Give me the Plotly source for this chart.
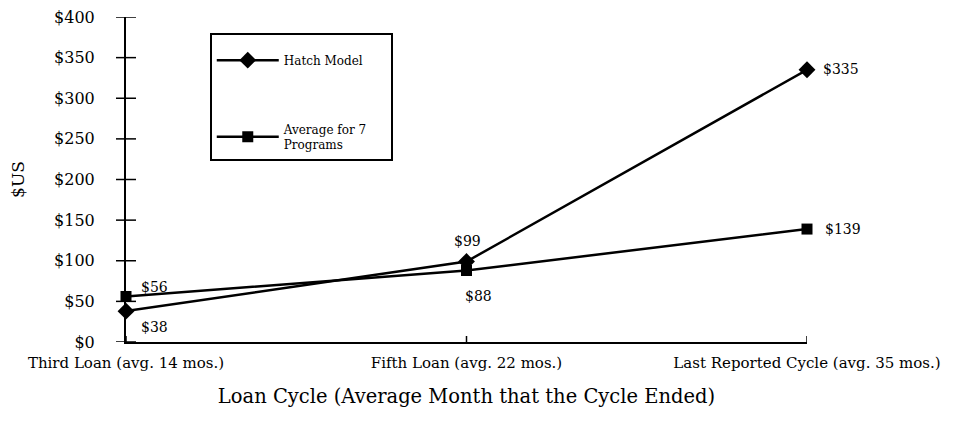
import plotly.graph_objects as go

categories = ["Third Loan (avg. 14 mos.)", "Fifth Loan (avg. 22 mos.)", "Last Reported Cycle (avg. 35 mos.)"]
hatch = [38, 99, 335]
average7 = [56, 88, 139]
y_ticks = [0, 50, 100, 150, 200, 250, 300, 350, 400]
y_tick_labels = [f"${v}" for v in y_ticks]

FONT = "DejaVu Serif"
xpos = list(range(len(categories)))

fig = go.Figure()
fig.add_trace(go.Scatter(
    x=xpos, y=hatch, mode="lines+markers", name="Hatch Model" + "&nbsp;" * 6,
    line=dict(color="black", width=2.5),
    marker=dict(symbol="diamond", size=13, color="black"),
    cliponaxis=False,
    legendgroup="a",
))
fig.add_trace(go.Scatter(
    x=xpos, y=average7, mode="lines+markers", name="Average for 7<br>Programs",
    line=dict(color="black", width=2.5),
    marker=dict(symbol="square", size=11, color="black"),
    cliponaxis=False,
    legendgroup="b",
))

# value labels (offsets in pixels relative to each data point)
hatch_offsets = [(28, -16), (1, 21), (14, 1)]
avg_offsets = [(28, 10), (12, -25), (16, 0)]
annotations = []
for series, offsets in ((hatch, hatch_offsets), (average7, avg_offsets)):
    for i, v in enumerate(series):
        dx, dy = offsets[i]
        annotations.append(dict(
            x=xpos[i], y=v, text=f"${v}", showarrow=False,
            xanchor="left" if i == 2 else "center", yanchor="middle",
            xshift=dx, yshift=dy,
            font=dict(family=FONT, size=14, color="black"),
        ))

# crossing tick marks on both axes
shapes = []
for t in y_ticks:
    shapes.append(dict(type="line", xref="paper", yref="y", xsizemode="pixel", xanchor=0,
                       x0=-10, x1=10, y0=t, y1=t, line=dict(color="black", width=1.5)))
for xp in xpos:
    shapes.append(dict(type="line", xref="x", yref="y", ysizemode="pixel", yanchor=0,
                       x0=xp, x1=xp, y0=-6, y1=6, line=dict(color="black", width=1.5)))

fig.update_layout(
    width=957, height=426,
    margin=dict(l=118, r=158, t=9, b=92, autoexpand=False),
    paper_bgcolor="white", plot_bgcolor="white",
    font=dict(family=FONT, color="black"),
    annotations=annotations,
    shapes=shapes,
    legend=dict(
        x=0.123, y=0.95, xanchor="left", yanchor="top",
        bordercolor="black", borderwidth=2, bgcolor="white",
        font=dict(family=FONT, size=12, color="black"),
        title=dict(text=" ", font=dict(size=8)),
        traceorder="grouped", tracegroupgap=50,
        itemwidth=62,
    ),
    xaxis=dict(
        range=[0, 2], tickvals=xpos, ticktext=categories, automargin=False,
        showgrid=False, zeroline=False,
        showline=True, linecolor="black", linewidth=2,
        ticks="outside", ticklen=6, tickwidth=0.01, tickcolor="rgba(0,0,0,0)",
        ticklabeloverflow="allow",
        tickfont=dict(family=FONT, size=15),
        title=dict(text="Loan Cycle (Average Month that the Cycle Ended)",
                   font=dict(family=FONT, size=19.5), standoff=18),
    ),
    yaxis=dict(
        range=[0, 400], tickvals=y_ticks, ticktext=y_tick_labels, automargin=False,
        showgrid=False, zeroline=False,
        showline=True, linecolor="black", linewidth=2,
        ticks="outside", ticklen=10, tickwidth=0.01, tickcolor="rgba(0,0,0,0)",
        ticklabelstandoff=16, ticklabeloverflow="allow",
        tickfont=dict(family=FONT, size=16),
        title=dict(text="$US", font=dict(family=FONT, size=17), standoff=36),
    ),
)

fig.write_html("out.html")
